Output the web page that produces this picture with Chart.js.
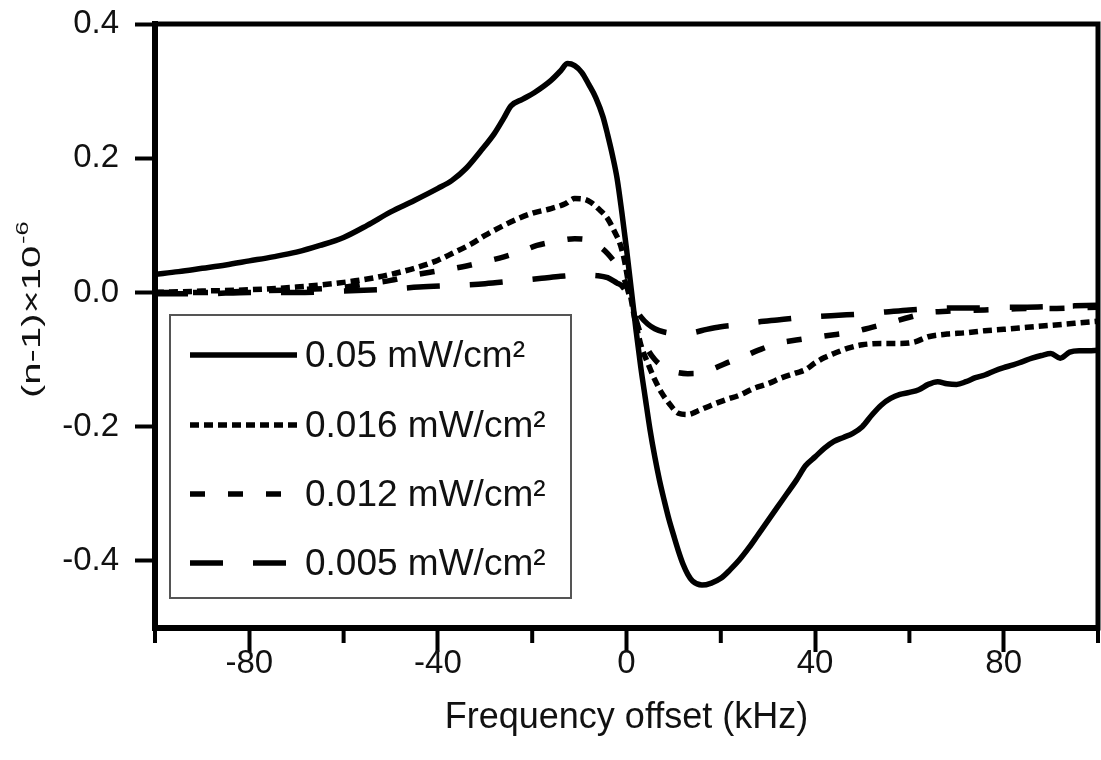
<!DOCTYPE html>
<html lang="en">
<head>
  <meta charset="UTF-8">
  <title>Refractive index vs frequency offset</title>
  <script src="https://cdn.jsdelivr.net/npm/chart.js@4"></script>
  <style>
    html, body { margin: 0; padding: 0; background: #fff; }
    canvas { display: block; }
  </style>
</head>
<body>
  <canvas id="dispersionChart" width="1101" height="760"></canvas>
  <script>
    // Series labels (intensity of the coupling beam)
    const seriesLabels = ['0.05 mW/cm²', '0.016 mW/cm²', '0.012 mW/cm²', '0.005 mW/cm²'];

    // 0.05 mW/cm2 - solid
    const freq05 = [-100, -95, -90, -85, -80, -75, -70, -65, -60, -55, -50, -45, -40, -37, -34, -31, -28, -26, -24.5, -22, -19.5, -16, -14, -12.5, -11, -9.5, -8, -6.5, -5, -4, -3, -2, -1, 0, 1, 2, 3, 4, 5, 6, 7, 8, 9, 10, 11, 12, 13, 14, 16, 18, 20, 22, 24, 26, 28, 30, 32, 34, 36, 38, 40, 42, 44, 46, 48, 50, 52, 54, 56, 58, 60, 62, 64, 66, 68, 70, 72, 74, 76, 78, 80, 82, 84, 86, 88, 90, 92, 94, 96, 98, 100];
    const dn05 = [0.027, 0.031, 0.036, 0.041, 0.047, 0.053, 0.060, 0.070, 0.082, 0.100, 0.120, 0.137, 0.155, 0.167, 0.185, 0.210, 0.237, 0.260, 0.278, 0.288, 0.298, 0.316, 0.330, 0.341, 0.338, 0.328, 0.310, 0.290, 0.262, 0.235, 0.205, 0.170, 0.120, 0.065, 0.005, -0.055, -0.110, -0.158, -0.205, -0.245, -0.280, -0.310, -0.338, -0.362, -0.385, -0.405, -0.420, -0.430, -0.436, -0.433, -0.426, -0.413, -0.398, -0.380, -0.360, -0.340, -0.320, -0.300, -0.280, -0.258, -0.245, -0.232, -0.222, -0.216, -0.210, -0.200, -0.183, -0.168, -0.158, -0.152, -0.149, -0.145, -0.137, -0.133, -0.136, -0.137, -0.133, -0.127, -0.123, -0.117, -0.112, -0.108, -0.103, -0.098, -0.094, -0.091, -0.098, -0.089, -0.087, -0.087, -0.086];

    // 0.016 mW/cm2 - dotted
    const freq016 = [-100, -90, -80, -70, -60, -55, -50, -45, -40, -37, -33, -30, -26, -23, -20, -16, -13, -11, -9, -7.5, -6, -4, -2.5, -1.5, -0.5, 0.5, 1.5, 3, 4.5, 6, 7.5, 9, 11, 13, 15, 18, 21, 24, 27, 30, 33, 36, 38, 40, 42, 44, 47, 50, 54, 58, 61, 64, 68, 72, 76, 80, 85, 90, 95, 100];
    const dn016 = [0.000, 0.002, 0.004, 0.008, 0.015, 0.020, 0.027, 0.036, 0.048, 0.058, 0.072, 0.085, 0.100, 0.110, 0.118, 0.125, 0.132, 0.140, 0.139, 0.134, 0.125, 0.110, 0.090, 0.075, 0.050, 0.010, -0.030, -0.077, -0.105, -0.130, -0.150, -0.165, -0.180, -0.182, -0.177, -0.168, -0.160, -0.153, -0.143, -0.136, -0.127, -0.120, -0.115, -0.105, -0.097, -0.091, -0.083, -0.078, -0.076, -0.076, -0.074, -0.066, -0.062, -0.060, -0.057, -0.055, -0.052, -0.049, -0.046, -0.043];

    // 0.012 mW/cm2 - dashed
    const freq012 = [-100, -90, -80, -70, -60, -55, -50, -45, -40, -35, -30, -26, -22, -19, -15, -11, -8, -6, -4, -2, -1, 0, 1, 2, 3, 4.5, 6, 8, 10, 13, 16, 19, 22, 25, 28, 32, 36, 40, 44, 48, 52, 56, 60, 64, 68, 72, 76, 80, 85, 90, 95, 100];
    const dn012 = [0.000, 0.000, 0.002, 0.004, 0.008, 0.013, 0.018, 0.026, 0.032, 0.038, 0.046, 0.053, 0.062, 0.070, 0.076, 0.080, 0.078, 0.070, 0.058, 0.040, 0.028, 0.010, -0.015, -0.040, -0.062, -0.085, -0.100, -0.112, -0.118, -0.121, -0.120, -0.112, -0.103, -0.095, -0.086, -0.076, -0.071, -0.067, -0.063, -0.059, -0.052, -0.045, -0.037, -0.030, -0.028, -0.027, -0.026, -0.025, -0.024, -0.024, -0.023, -0.022];

    // 0.005 mW/cm2 - long dashes
    const freq005 = [-100, -90, -80, -70, -60, -50, -44, -35, -30, -24, -18, -14, -10, -6, -4, -2, -1, 0, 1, 2, 3, 4.5, 6, 8, 11, 14, 17, 20, 24, 28, 32, 36, 40, 45, 50, 55, 60, 65, 70, 75, 80, 85, 90, 95, 100];
    const dn005 = [-0.002, -0.002, 0.000, 0.000, 0.002, 0.005, 0.008, 0.011, 0.013, 0.017, 0.021, 0.024, 0.026, 0.025, 0.022, 0.014, 0.010, 0.000, -0.012, -0.025, -0.036, -0.047, -0.054, -0.059, -0.061, -0.060, -0.055, -0.051, -0.048, -0.044, -0.041, -0.038, -0.036, -0.034, -0.032, -0.029, -0.026, -0.024, -0.023, -0.023, -0.022, -0.022, -0.021, -0.020, -0.019];

    // Axis ticks
    const xTicks = [-80, -40, 0, 40, 80];
    const xMinorTicks = [-100, -60, -20, 20, 60, 100];
    const yTicks = [-0.4, -0.2, 0, 0.2, 0.4];

    const toPoints = (xs, ys) => xs.map((x, i) => ({ x: x, y: ys[i] }));

    Chart.defaults.font.family = '"Liberation Sans", Arial, sans-serif';
    Chart.defaults.color = '#111';

    // Frame, minor ticks, y title and boxed legend
    const decorPlugin = {
      id: 'decor',
      afterDraw(chart) {
        const ctx = chart.ctx;
        const area = chart.chartArea;
        const xs = chart.scales.x;
        ctx.save();

        // top and right frame lines
        ctx.strokeStyle = '#000';
        ctx.lineWidth = 5;
        ctx.lineCap = 'square';
        ctx.beginPath();
        ctx.moveTo(area.left, area.top);
        ctx.lineTo(area.right, area.top);
        ctx.lineTo(area.right, area.bottom);
        ctx.stroke();

        // short ticks between the labelled ones
        ctx.lineCap = 'butt';
        ctx.lineWidth = 4;
        xMinorTicks.forEach(v => {
          const px = xs.getPixelForValue(v);
          ctx.beginPath();
          ctx.moveTo(px, area.bottom);
          ctx.lineTo(px, area.bottom + 15);
          ctx.stroke();
        });

        // rotated y axis title with superscript exponent (drawn tall and narrow)
        ctx.save();
        ctx.translate(40, 398);
        ctx.rotate(-Math.PI / 2);
        ctx.scale(1.6, 1);
        ctx.fillStyle = '#111';
        ctx.textAlign = 'left';
        ctx.textBaseline = 'alphabetic';
        ctx.font = '25px "Liberation Sans", Arial, sans-serif';
        const main = '(n-1)×10';
        ctx.fillText(main, 0, 0);
        const w = ctx.measureText(main).width;
        ctx.font = '16px "Liberation Sans", Arial, sans-serif';
        ctx.fillText('-6', w + 1, -12);
        ctx.restore();

        // legend box
        const box = { left: 170, top: 315, right: 571, bottom: 598 };
        ctx.strokeStyle = '#555';
        ctx.lineWidth = 2;
        ctx.strokeRect(box.left, box.top, box.right - box.left, box.bottom - box.top);

        const rowY = [357, 427, 496, 565];
        ctx.font = '37px "Liberation Sans", Arial, sans-serif';
        ctx.textAlign = 'left';
        ctx.textBaseline = 'middle';
        chart.data.datasets.forEach((ds, i) => {
          const y = rowY[i];
          ctx.strokeStyle = ds.borderColor;
          ctx.lineWidth = ds.borderWidth;
          ctx.setLineDash(ds.borderDash || []);
          ctx.beginPath();
          ctx.moveTo(190, y - 2);
          ctx.lineTo(297, y - 2);
          ctx.stroke();
          ctx.setLineDash([]);
          ctx.fillStyle = '#111';
          ctx.fillText(ds.label, 305, y);
        });
        ctx.restore();
      }
    };

    const makeSet = (label, xs, ys, dash) => ({
      label: label,
      data: toPoints(xs, ys),
      borderColor: '#000',
      borderWidth: 5.5,
      borderDash: dash,
      pointRadius: 0,
      fill: false,
      cubicInterpolationMode: 'monotone'
    });

    new Chart(document.getElementById('dispersionChart'), {
      type: 'line',
      data: {
        datasets: [
          makeSet(seriesLabels[0], freq05, dn05, []),
          makeSet(seriesLabels[1], freq016, dn016, [9, 5]),
          makeSet(seriesLabels[2], freq012, dn012, [15, 23]),
          makeSet(seriesLabels[3], freq005, dn005, [33, 30])
        ]
      },
      options: {
        responsive: false,
        animation: false,
        layout: { padding: { top: 24, right: 3, left: 0, bottom: 0 } },
        plugins: {
          legend: { display: false },
          tooltip: { enabled: false }
        },
        scales: {
          x: {
            type: 'linear',
            min: -100,
            max: 100,
            afterBuildTicks: axis => { axis.ticks = xTicks.map(v => ({ value: v })); },
            afterFit: axis => { axis.height = 132; },
            grid: { drawOnChartArea: false, tickLength: 24, tickWidth: 4, tickColor: '#000' },
            border: { display: true, width: 6, color: '#000' },
            ticks: { font: { size: 33 }, padding: -8, maxRotation: 0, callback: v => String(v) },
            title: {
              display: true,
              text: 'Frequency offset (kHz)',
              font: { size: 36 },
              padding: { top: 0, bottom: 20 }
            }
          },
          y: {
            min: -0.5,
            max: 0.4,
            afterBuildTicks: axis => { axis.ticks = yTicks.map(v => ({ value: v })); },
            afterFit: axis => {
              axis.width = 155;
              axis.paddingTop = 0;
              axis.paddingBottom = 0;
            },
            grid: { drawOnChartArea: false, tickLength: 20, tickWidth: 4, tickColor: '#000' },
            border: { display: true, width: 6, color: '#000' },
            ticks: { font: { size: 33 }, padding: 16, callback: v => v.toFixed(1) }
          }
        }
      },
      plugins: [decorPlugin]
    });
  </script>
</body>
</html>
